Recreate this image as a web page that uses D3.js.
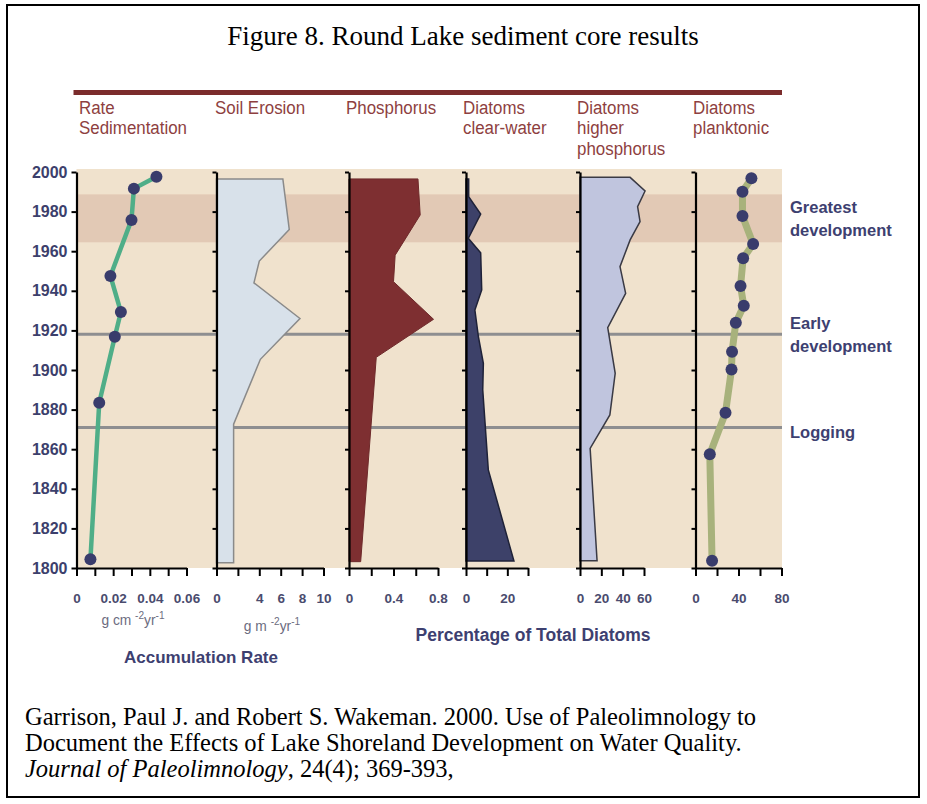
<!DOCTYPE html>
<html><head><meta charset="utf-8">
<script src="https://cdn.jsdelivr.net/npm/d3@7"></script>
<style>
html,body{margin:0;padding:0;background:#fff;}
svg{display:block;}
</style>
</head><body>
<svg id="chart" width="927" height="804"></svg>
<script>
// ---------- DATA ----------
const yearTicks = [1800,1820,1840,1860,1880,1900,1920,1940,1960,1980,2000];
const columnTitles = [["Rate","Sedimentation"],["Soil Erosion"],["Phosphorus"],["Diatoms","clear-water"],["Diatoms","higher","phosphorus"],["Diatoms","planktonic"]];

const sedYears = [1997.6,1991.6,1975.8,1947.5,1929.3,1916.8,1883.5,1804.4];
const sedRate  = [0.0436,0.0313,0.030,0.0185,0.0242,0.0209,0.0124,0.0076];

const soilYears   = [1996.5,1971,1955,1944,1926,1905.4,1872.6,1802.7];
const soilErosion = [6.2,6.8,4.0,3.5,7.8,4.1,1.6,1.6];

const phosYears  = [1996.5,1978.3,1958,1944.6,1925.6,1906.4,1803.2];
const phosphorus = [0.62,0.64,0.415,0.40,0.76,0.245,0.105];

const clearYears = [1996.5,1987.5,1978.8,1966.5,1959.2,1940.4,1930.3,1916.8,1903.4,1890,1849.5,1803.5];
const clearWater = [1.3,1.3,7.1,1.1,7.1,7.6,4.3,6.0,8.4,8.1,10.8,23.2];

const highPYears = [1997.3,1990.4,1982.5,1974.9,1965.7,1952.2,1938.7,1921.4,1898.3,1877.3,1860.4,1803.7];
const highP      = [47,61,54,56.3,47,37.5,42.8,26,33,28,9.5,16];

const plankYears = [1996.8,1990,1977.8,1963.6,1956.4,1942.4,1932.5,1923.9,1909.2,1900.3,1878.4,1857.4,1803.7];
const planktonic = [52,43.7,43.7,53.6,44.3,41.9,44.9,37.5,34,33.5,27.9,13.3,15.4];

const events = [{label:["Greatest","development"], from:1964.5, to:1988.7},
                {label:["Early","development"], at:1918},
                {label:["Logging"], at:1871}];

const xTickSets = [
  {domain:[0,0.06], ticks:[0,0.01,0.02,0.03,0.04,0.05,0.06], labels:["0","","0.02","","0.04","","0.06"]},
  {domain:[0,10], ticks:[0,2,4,6,8,10], labels:["0","","4","6","8","10"]},
  {domain:[0,0.8], ticks:[0,0.2,0.4,0.6,0.8], labels:["0","","0.4","","0.8"]},
  {domain:[0,30], ticks:[0,10,20,30], labels:["0","","20",""]},
  {domain:[0,60], ticks:[0,20,40,60], labels:["0","20","40","60"]},
  {domain:[0,80], ticks:[0,20,40,60,80], labels:["0","","40","","80"]}
];

// ---------- LAYOUT ----------
const svg = d3.select("#chart");
const panelRanges = [[76.5,186.5],[216.5,323.5],[349,438],[466,528],[580,644],[695.5,781.5]];
const y = d3.scaleLinear().domain([1800,2000]).range([568,172]);
const xs = xTickSets.map((t,i)=>d3.scaleLinear().domain(t.domain).range(panelRanges[i]));
const bgL = 76.5, bgR = 782;

// border
svg.append("rect").attr("x",7).attr("y",5).attr("width",912).attr("height",792)
  .attr("fill","none").attr("stroke","#000").attr("stroke-width",2);

// title
svg.append("text").attr("x",463).attr("y",45).attr("text-anchor","middle")
  .attr("font-family","'Liberation Serif','Times New Roman',serif").attr("font-size",27)
  .text("Figure 8. Round Lake sediment core results");

// maroon bar
svg.append("rect").attr("x",bgL-3).attr("y",90).attr("width",bgR-bgL+3).attr("height",5).attr("fill","#7b2c2c");

// column titles (condensed look)
const headerX = [79,215,346,463,577,693];
columnTitles.forEach((lines,i)=>{
  const t = svg.append("text").attr("transform",`translate(${headerX[i]},114) scale(0.89,1)`)
    .attr("font-family","'Liberation Sans',Arial,sans-serif")
    .attr("font-size",19).attr("fill","#8e3f3f");
  lines.forEach((l,j)=>t.append("tspan").attr("x",0).attr("y",j*20.5).text(l));
});

// background
svg.append("rect").attr("x",bgL).attr("y",169).attr("width",bgR-bgL).attr("height",y(1800)-169).attr("fill","#f0e2cd");
// greatest development band
svg.append("rect").attr("x",bgL).attr("y",y(events[0].to)).attr("width",bgR-bgL)
  .attr("height",y(events[0].from)-y(events[0].to)).attr("fill","#e2c9b5");
// grey event lines
events.filter(e=>e.at).forEach(e=>{
  svg.append("line").attr("x1",bgL).attr("x2",bgR).attr("y1",y(e.at)).attr("y2",y(e.at))
    .attr("stroke","#8e8e90").attr("stroke-width",3);
});

// area profiles
function profile(i, yrs, vals, fill, stroke, sw){
  const data = yrs.map((yr,k)=>({yr, v:vals[k]}));
  const area = d3.area().y(d=>y(d.yr)).x0(xs[i](0)).x1(d=>xs[i](d.v));
  svg.append("path").datum(data).attr("d",area).attr("fill",fill)
    .attr("stroke",stroke).attr("stroke-width",sw).attr("stroke-linejoin","miter");
}
profile(1, soilYears, soilErosion, "#d8e1ea", "#8a8a8a", 1.5);
profile(2, phosYears, phosphorus, "#7e2f31", "#6e2a2b", 1);
profile(3, clearYears, clearWater, "#3d4169", "#1f2238", 1.5);
profile(4, highPYears, highP, "#c0c5de", "#3a3a44", 1.5);

// line profiles with dots
function dotLine(i, yrs, vals, color, w){
  const data = yrs.map((yr,k)=>({yr, v:vals[k]}));
  const line = d3.line().x(d=>xs[i](d.v)).y(d=>y(d.yr));
  svg.append("path").datum(data).attr("d",line).attr("fill","none")
    .attr("stroke",color).attr("stroke-width",w).attr("stroke-linejoin","round");
  return data;
}
const sedData = dotLine(0, sedYears, sedRate, "#4fae88", 4.5);
const plankData = dotLine(5, plankYears, planktonic, "#a8b27c", 7);

// vertical axes
panelRanges.forEach((r,i)=>{
  const ax = d3.axisLeft(y).tickValues(yearTicks).tickSize(i===0?5:4).tickSizeOuter(0)
    .tickFormat(i===0?d3.format("d"):"");
  const g = svg.append("g").attr("transform",`translate(${r[0]},0)`).call(ax);
  g.select(".domain").attr("stroke","#000").attr("stroke-width",2.2);
  g.selectAll(".tick line").attr("stroke","#000").attr("stroke-width",2);
  g.selectAll(".tick text").attr("font-family","'Liberation Sans',Arial,sans-serif")
    .attr("font-weight","bold").attr("font-size",16).attr("fill","#3c3f6c").attr("dx",-1);
});

// horizontal axes
xTickSets.forEach((t,i)=>{
  const ax = d3.axisBottom(xs[i]).tickValues(t.ticks).tickSize(8).tickSizeOuter(0).tickPadding(17)
    .tickFormat((d,k)=>t.labels[k]);
  const g = svg.append("g").attr("transform",`translate(0,${y(1800)})`).call(ax);
  g.select(".domain").attr("stroke","#000").attr("stroke-width",2.2);
  g.selectAll(".tick line").attr("stroke","#000").attr("stroke-width",2);
  g.selectAll(".tick text").attr("font-family","'Liberation Sans',Arial,sans-serif")
    .attr("font-weight","bold").attr("font-size",13.5).attr("fill","#4a4b6e");
});

// dots
[[0,sedData],[5,plankData]].forEach(([i,data])=>{
  svg.append("g").selectAll("circle").data(data).join("circle")
    .attr("cx",d=>xs[i](d.v)).attr("cy",d=>y(d.yr)).attr("r",6).attr("fill","#393c6c");
});

// event labels
const evY = [y((events[0].from+events[0].to)/2), y(1918), y(1871)+5];
events.forEach((e,i)=>{
  const n = e.label.length;
  const t = svg.append("text").attr("x",790).attr("y",evY[i] - (n-1)*11.5 + 6)
    .attr("font-family","'Liberation Sans',Arial,sans-serif").attr("font-weight","bold")
    .attr("font-size",16.5).attr("fill","#3d4070");
  e.label.forEach((l,j)=>t.append("tspan").attr("x",790).attr("dy",j===0?0:23).text(l));
});

// units
function unit(x, yy, base){
  const t = svg.append("text").attr("transform",`translate(${x},${yy}) scale(0.92,1)`).attr("text-anchor","middle")
    .attr("font-family","'Liberation Sans',Arial,sans-serif")
    .attr("font-size",15).attr("fill","#6c6c80");
  t.append("tspan").text(base+" ");
  t.append("tspan").attr("dy",-6).attr("font-size",11).text("-2");
  t.append("tspan").attr("dy",6).text("yr");
  t.append("tspan").attr("dy",-6).attr("font-size",11).text("-1");
}
unit(133, 625, "g cm");
unit(272, 631, "g m");

svg.append("text").attr("x",201).attr("y",663).attr("text-anchor","middle")
  .attr("font-family","'Liberation Sans',Arial,sans-serif").attr("font-weight","bold")
  .attr("font-size",17).attr("fill","#3d4070").text("Accumulation Rate");
svg.append("text").attr("x",533).attr("y",641).attr("text-anchor","middle")
  .attr("font-family","'Liberation Sans',Arial,sans-serif").attr("font-weight","bold")
  .attr("font-size",17.5).attr("fill","#3d4070").text("Percentage of Total Diatoms");

// citation
const cit = svg.append("text").attr("font-family","'Liberation Serif','Times New Roman',serif")
  .attr("font-size",24.5).attr("fill","#000");
cit.append("tspan").attr("x",25).attr("y",725).text("Garrison, Paul J. and Robert S. Wakeman. 2000. Use of Paleolimnology to");
cit.append("tspan").attr("x",25).attr("y",751).text("Document the Effects of Lake Shoreland Development on Water Quality.");
const l3 = cit.append("tspan").attr("x",25).attr("y",777);
l3.append("tspan").attr("font-style","italic").text("Journal of Paleolimnology");
l3.append("tspan").text(", 24(4); 369-393,");
</script>
</body></html>
